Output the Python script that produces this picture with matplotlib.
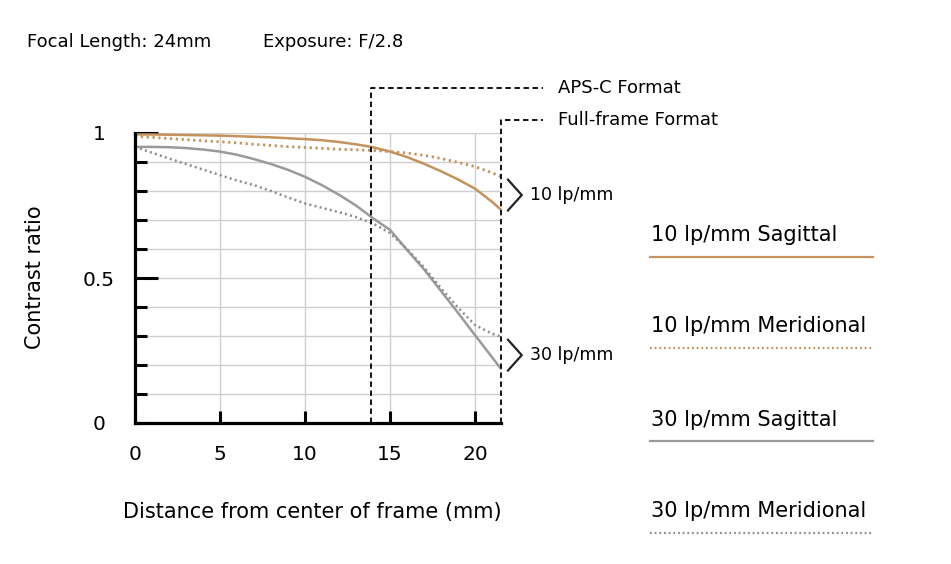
import numpy as np
import matplotlib.pyplot as plt
from matplotlib.lines import Line2D

# distance from frame centre (mm) and read-off contrast values
distance = [0, 1, 2, 3, 4, 5, 6, 7, 8, 9, 10, 11, 12, 13, 14, 15, 16, 17, 18, 19, 20, 21, 21.5]
sagittal_10 = [0.995, 0.995, 0.994, 0.993, 0.992, 0.991, 0.989, 0.987, 0.985, 0.982, 0.979, 0.975,
               0.969, 0.961, 0.951, 0.936, 0.917, 0.894, 0.868, 0.840, 0.808, 0.763, 0.737]
meridional_10 = [0.988, 0.985, 0.981, 0.977, 0.973, 0.970, 0.966, 0.961, 0.957, 0.953, 0.950, 0.947,
                 0.944, 0.942, 0.940, 0.936, 0.931, 0.923, 0.912, 0.899, 0.884, 0.863, 0.850]
sagittal_30 = [0.952, 0.952, 0.951, 0.948, 0.943, 0.936, 0.925, 0.910, 0.893, 0.873, 0.849, 0.820,
               0.787, 0.750, 0.706, 0.666, 0.597, 0.530, 0.455, 0.380, 0.303, 0.227, 0.189]
meridional_30 = [0.952, 0.932, 0.912, 0.893, 0.874, 0.855, 0.836, 0.820, 0.800, 0.778, 0.757, 0.742,
                 0.727, 0.710, 0.688, 0.655, 0.600, 0.537, 0.465, 0.398, 0.338, 0.308, 0.298]

aps_c_edge = 13.9
full_frame_edge = 21.5

x_ticks = [0, 5, 10, 15, 20]
y_ticks = [0, 0.5, 1]
y_tick_labels = ['0', '0.5', '1']

legend_labels = ['10 lp/mm Sagittal', '10 lp/mm Meridional', '30 lp/mm Sagittal', '30 lp/mm Meridional']

orange = '#c4925c'
gray = '#9a9a9a'
gray_dot = '#8c8c8c'
dotted = (0, (0.8, 1.3))
dashed = (0, (3, 2))

W, H = 951, 564
fig = plt.figure(figsize=(W / 100, H / 100), dpi=100)
ax = fig.add_axes([135 / W, 141 / H, 365.5 / W, 290 / H])
ax.set_xlim(0, full_frame_edge)
ax.set_ylim(0, 1)

# grid
for y in np.arange(0.1, 1.01, 0.1):
    ax.axhline(y, color='#cfcfcf', lw=1, zorder=0)
for x in x_ticks[1:]:
    ax.axvline(x, color='#cfcfcf', lw=1, zorder=0)

# curves
ax.plot(distance, sagittal_10, color=orange, lw=1.8, clip_on=False, zorder=3)
ax.plot(distance, meridional_10, color=orange, lw=2, ls=dotted, clip_on=False, zorder=3)
ax.plot(distance, sagittal_30, color=gray, lw=1.8, clip_on=False, zorder=3)
ax.plot(distance, meridional_30, color=gray_dot, lw=1.8, ls=dotted, clip_on=False, zorder=3)

# format boundaries
ax.plot([aps_c_edge, aps_c_edge, 24.0], [0, 1.155, 1.155], color='black', lw=1.3, ls=dashed,
        clip_on=False, zorder=4)
ax.plot([full_frame_edge, full_frame_edge, 24.0], [0, 1.045, 1.045], color='black', lw=1.3, ls=dashed,
        clip_on=False, zorder=4)
ax.text(24.9, 1.155, 'APS-C Format', fontsize=13, va='center', ha='left')
ax.text(24.9, 1.045, 'Full-frame Format', fontsize=13, va='center', ha='left')

# frequency brackets
for yc, lab in [(0.786, '10 lp/mm'), (0.234, '30 lp/mm')]:
    ax.plot([21.94, 22.75, 21.94], [yc + 0.053, yc, yc - 0.053], color='#222222', lw=1.6,
            clip_on=False, solid_joinstyle='miter')
    ax.text(23.24, yc, lab, fontsize=12.5, va='center', ha='left')

# axes styling
for side in ['top', 'right']:
    ax.spines[side].set_visible(False)
for side in ['left', 'bottom']:
    ax.spines[side].set_linewidth(2.3)
    ax.spines[side].set_color('black')
ax.spines['left'].set_zorder(5)
ax.spines['bottom'].set_zorder(5)

ax.set_yticks(y_ticks)
ax.set_yticklabels(y_tick_labels)
ax.set_yticks(np.arange(0.1, 1.0, 0.1), minor=True)
ax.tick_params(axis='y', which='major', direction='in', length=16.5, width=2.2, pad=26, labelsize=14.5)
ax.tick_params(axis='y', which='minor', direction='in', length=8.5, width=2.2)
for lab in ax.get_yticklabels():
    lab.set_horizontalalignment('center')
ax.set_xticks(x_ticks)
ax.tick_params(axis='x', which='major', direction='in', length=8.5, width=2.2, pad=16, labelsize=14.5)

# titles and labels
fig.text(27 / W, 1 - 42 / H, 'Focal Length: 24mm', fontsize=13, ha='left', va='center')
fig.text(263 / W, 1 - 42 / H, 'Exposure: F/2.8', fontsize=13, ha='left', va='center')
fig.text(35 / W, 1 - 277 / H, 'Contrast ratio', fontsize=15, rotation=90, ha='center', va='center')
fig.text(312 / W, 1 - 512 / H, 'Distance from center of frame (mm)', fontsize=15, ha='center', va='center')

# legend on the right
styles = [(orange, '-'), (orange, dotted), (gray, '-'), (gray_dot, dotted)]
text_y = [235, 326, 420, 511]
line_y = [257, 348, 441, 533]
for lab, (col, ls), ty, ly in zip(legend_labels, styles, text_y, line_y):
    fig.text(651 / W, 1 - ty / H, lab, fontsize=15, ha='left', va='center')
    fig.add_artist(Line2D([650 / W, 873 / W], [1 - ly / H, 1 - ly / H], color=col, ls=ls,
                          lw=1.6, transform=fig.transFigure))

fig.savefig('out.png', dpi=100)
